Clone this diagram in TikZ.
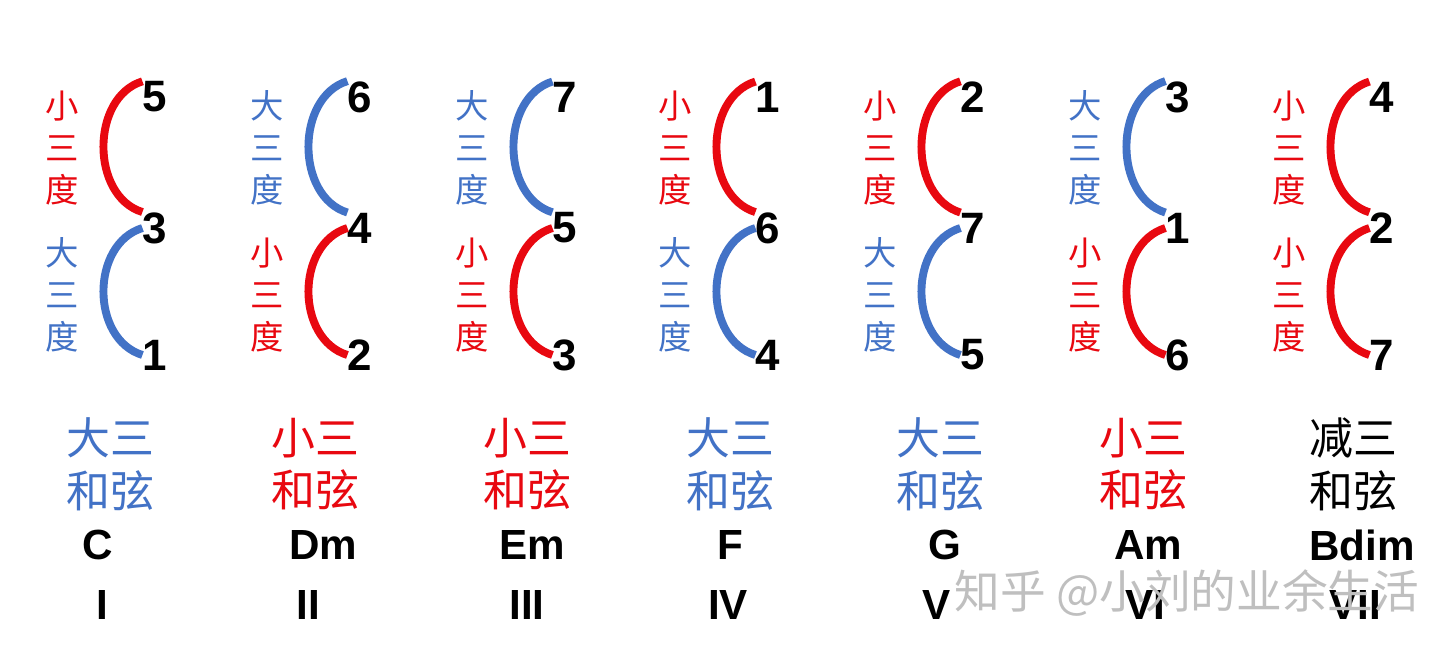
\documentclass[tikz,border=0pt]{standalone}
\usepackage{fontspec}
\setmainfont{Liberation Sans}
\newfontfamily\cjk{Noto Sans CJK SC}
\definecolor{minorRed}{RGB}{232,8,16}
\definecolor{majorBlue}{RGB}{66,114,198}
\begin{document}
\begin{tikzpicture}
[x=0.02cm,y=-0.02cm,
  degree/.style={font=\bfseries\fontsize{25}{25}\selectfont,inner sep=0pt},%
  third/.style={line width=4.5pt},%
  interval/.style={font=\cjk\fontsize{19}{24}\selectfont,align=center,inner sep=0pt},%
  quality/.style={font=\cjk\fontsize{25}{30}\selectfont,align=center,inner sep=0pt},%
  chordName/.style={font=\bfseries\fontsize{24}{24}\selectfont,inner sep=0pt}]
\useasboundingbox (0,0) rectangle (1440,650);
%% scale degrees and the thirds between them
\foreach \col/\X/\nt/\nm/\nb/\cu/\ku/\cl/\kl in {1/155/5/3/1/minorRed/小/majorBlue/大,
  2/360/6/4/2/majorBlue/大/minorRed/小, 3/565/7/5/3/majorBlue/大/minorRed/小,
  4/768/1/6/4/minorRed/小/majorBlue/大, 5/973/2/7/5/minorRed/小/majorBlue/大,
  6/1178/3/1/6/majorBlue/大/minorRed/小, 7/1382/4/2/7/minorRed/小/minorRed/小}
{
  \node[degree] (t\col) at (\X,97) {\nt};
  \node[degree] (m\col) at (\X,228) {\nm};
  \node[degree] (b\col) at (\X,355) {\nb};
  \draw[third,\cu] (t\col.north west) .. controls +(-52,16) and +(-52,-16) .. (m\col.north west);
  \draw[third,\cl] (m\col.west) .. controls +(-52,16) and +(-52,-16) .. (b\col.west);
  \node[interval,\cu] (lu\col) at (\X-93,148) {\ku\\三\\度};
  \node[interval,\cl] (ll\col) at (\X-93,295) {\kl\\三\\度};
}
%% chord quality, name and numeral
\foreach \col/\xq/\q/\cq/\xc/\ch/\xr/\ro in {1/110/大三/majorBlue/98/C/102/I,
  2/315/小三/minorRed/323/Dm/308/II, 3/527/小三/minorRed/532/Em/527/III,
  4/730/大三/majorBlue/730/F/728/IV, 5/940/大三/majorBlue/945/G/937/V,
  6/1143/小三/minorRed/1148/Am/1145/VI, 7/1353/减三/black/1362/Bdim/1355/VII}
{
  \node[quality,\cq] (q\col) at (\xq,464) {\q\\和弦};
  \node[chordName] (c\col) at (\xc,545) {\ch};
  \node[chordName] (r\col) at (\xr,605) {\ro};
}
\node[font=\cjk\fontsize{26}{26}\selectfont,text=gray!50] (mark) at (1187,593) {知乎 @小刘的业余生活};
\end{tikzpicture}
\end{document}
